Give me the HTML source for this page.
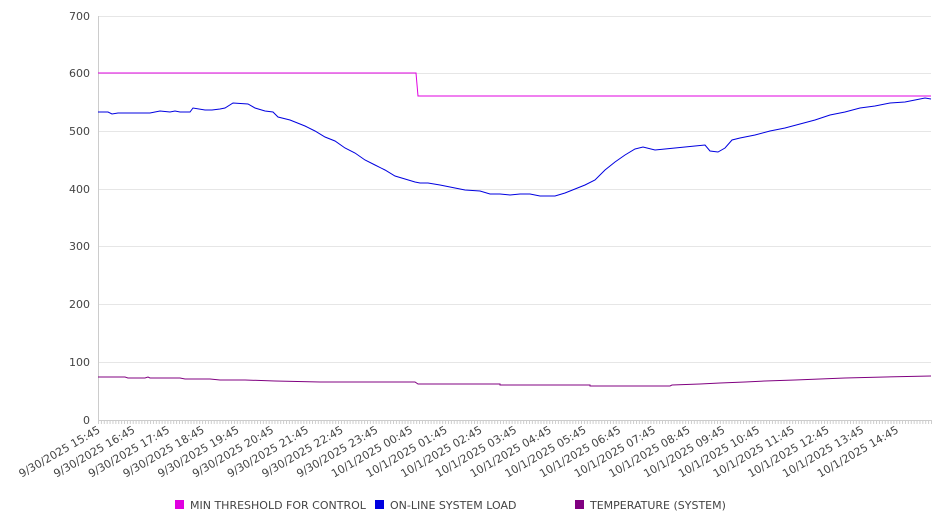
<!DOCTYPE html>
<html><head><meta charset="utf-8"><style>
html,body{margin:0;padding:0;background:#fff;}
svg{display:block;font-family:"DejaVu Sans","Liberation Sans",sans-serif;}
</style></head><body>
<svg width="946" height="526" viewBox="0 0 946 526">
<defs>
<pattern id="tk" x="98" y="420" width="2.8924" height="5" patternUnits="userSpaceOnUse">
<line x1="0.5" y1="0" x2="0.5" y2="5" stroke="#ccc" stroke-width="1"/>
</pattern>
</defs>
<g stroke="#e6e6e6" stroke-width="1">
<line x1="98" y1="16.5" x2="931" y2="16.5"/>
<line x1="98" y1="73.5" x2="931" y2="73.5"/>
<line x1="98" y1="131.5" x2="931" y2="131.5"/>
<line x1="98" y1="189.5" x2="931" y2="189.5"/>
<line x1="98" y1="246.5" x2="931" y2="246.5"/>
<line x1="98" y1="304.5" x2="931" y2="304.5"/>
<line x1="98" y1="362.5" x2="931" y2="362.5"/>
</g>
<line x1="98.5" y1="16" x2="98.5" y2="420" stroke="#ccc"/>
<line x1="98" y1="420.5" x2="931" y2="420.5" stroke="#ccc"/>
<rect x="98" y="420" width="834" height="4" fill="url(#tk)"/>
<g font-size="11" fill="#444" text-anchor="end">
<text x="90" y="20">700</text><text x="90" y="77">600</text><text x="90" y="135">500</text>
<text x="90" y="193">400</text><text x="90" y="250">300</text><text x="90" y="308">200</text>
<text x="90" y="366">100</text><text x="90" y="424">0</text>
</g>
<g font-size="11" fill="#444" text-anchor="end">
<text transform="translate(101,432) rotate(-30)">9/30/2025 15:45</text>
<text transform="translate(135.7,432) rotate(-30)">9/30/2025 16:45</text>
<text transform="translate(170.4,432) rotate(-30)">9/30/2025 17:45</text>
<text transform="translate(205.1,432) rotate(-30)">9/30/2025 18:45</text>
<text transform="translate(239.8,432) rotate(-30)">9/30/2025 19:45</text>
<text transform="translate(274.5,432) rotate(-30)">9/30/2025 20:45</text>
<text transform="translate(309.3,432) rotate(-30)">9/30/2025 21:45</text>
<text transform="translate(344,432) rotate(-30)">9/30/2025 22:45</text>
<text transform="translate(378.7,432) rotate(-30)">9/30/2025 23:45</text>
<text transform="translate(413.4,432) rotate(-30)">10/1/2025 00:45</text>
<text transform="translate(448.1,432) rotate(-30)">10/1/2025 01:45</text>
<text transform="translate(482.8,432) rotate(-30)">10/1/2025 02:45</text>
<text transform="translate(517.5,432) rotate(-30)">10/1/2025 03:45</text>
<text transform="translate(552.2,432) rotate(-30)">10/1/2025 04:45</text>
<text transform="translate(586.9,432) rotate(-30)">10/1/2025 05:45</text>
<text transform="translate(621.6,432) rotate(-30)">10/1/2025 06:45</text>
<text transform="translate(656.3,432) rotate(-30)">10/1/2025 07:45</text>
<text transform="translate(691,432) rotate(-30)">10/1/2025 08:45</text>
<text transform="translate(725.7,432) rotate(-30)">10/1/2025 09:45</text>
<text transform="translate(760.4,432) rotate(-30)">10/1/2025 10:45</text>
<text transform="translate(795.2,432) rotate(-30)">10/1/2025 11:45</text>
<text transform="translate(829.9,432) rotate(-30)">10/1/2025 12:45</text>
<text transform="translate(864.6,432) rotate(-30)">10/1/2025 13:45</text>
<text transform="translate(899.3,432) rotate(-30)">10/1/2025 14:45</text>
</g>
<polyline fill="none" stroke="#e000e0" stroke-width="1" points="98,73 416,73 418,96 931,96"/>
<polyline fill="none" stroke="#800080" stroke-width="1" points="98,377 125,377 128,378 145,378 148,377 150,378 180,378 185,379 210,379 220,380 245,380 275,381 320,382 415,382 418,384 500,384 500,385 590,385 590,386 670,386 672,385 700,384 720,383 745,382 765,381 795,380 820,379 845,378 885,377 931,376"/>
<polyline fill="none" stroke="#0000e0" stroke-width="1" points="98,112 108,112 112,114 118,113 150,113 160,111 170,112 175,111 180,112 190,112 193,108 205,110 212,110 220,109 225,108 233,103 248,104 255,108 265,111 273,112 278,117 290,120 305,126 315,131 325,137 335,141 345,148 355,153 365,160 375,165 385,170 395,176 405,179 415,182 420,183 428,183 440,185 455,188 465,190 480,191 490,194 500,194 510,195 520,194 530,194 540,196 555,196 565,193 575,189 585,185 595,180 605,170 615,162 625,155 635,149 643,147 655,150 665,149 675,148 685,147 695,146 705,145 710,151 718,152 725,148 732,140 740,138 755,135 770,131 785,128 800,124 815,120 830,115 845,112 860,108 875,106 890,103 905,102 915,100 925,98 931,99"/>
<g font-size="11" fill="#444">
<rect x="175" y="500" width="9" height="9" fill="#e000e0"/><text x="190" y="509">MIN THRESHOLD FOR CONTROL</text>
<rect x="375" y="500" width="9" height="9" fill="#0000e0"/><text x="390" y="509">ON-LINE SYSTEM LOAD</text>
<rect x="575" y="500" width="9" height="9" fill="#800080"/><text x="590" y="509">TEMPERATURE (SYSTEM)</text>
</g>
</svg>
</body></html>
